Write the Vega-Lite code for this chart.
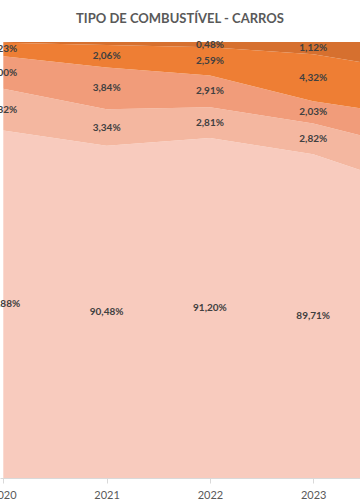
{
  "$schema": "https://vega.github.io/schema/vega-lite/v6.json",
  "autosize": {"type": "none"},
  "padding": {"top": 42, "left": 0, "right": 0, "bottom": 26},
  "width": 360,
  "height": 436,
  "background": "white",
  "title": {"text": "TIPO DE COMBUSTÍVEL - CARROS", "font": "Lato", "fontSize": 13, "fontWeight": "bold", "color": "#595959", "anchor": "middle", "frame": "group", "offset": 11},
  "config": {"view": {"stroke": null}},
  "data": {"values": [
    {"ano": 2020, "tipo": "Flex", "ord": 1, "pct": 91.88, "rotulo": "91,88%"},
    {"ano": 2020, "tipo": "Gasolina", "ord": 2, "pct": 3.82, "rotulo": "3,82%"},
    {"ano": 2020, "tipo": "Diesel", "ord": 3, "pct": 3.00, "rotulo": "3,00%"},
    {"ano": 2020, "tipo": "Híbrido", "ord": 4, "pct": 1.23, "rotulo": "1,23%"},
    {"ano": 2020, "tipo": "Elétrico", "ord": 5, "pct": 0.07, "rotulo": ""},
    {"ano": 2021, "tipo": "Flex", "ord": 1, "pct": 90.48, "rotulo": "90,48%"},
    {"ano": 2021, "tipo": "Gasolina", "ord": 2, "pct": 3.34, "rotulo": "3,34%"},
    {"ano": 2021, "tipo": "Diesel", "ord": 3, "pct": 3.84, "rotulo": "3,84%"},
    {"ano": 2021, "tipo": "Híbrido", "ord": 4, "pct": 2.06, "rotulo": "2,06%"},
    {"ano": 2021, "tipo": "Elétrico", "ord": 5, "pct": 0.28, "rotulo": ""},
    {"ano": 2022, "tipo": "Flex", "ord": 1, "pct": 91.20, "rotulo": "91,20%"},
    {"ano": 2022, "tipo": "Gasolina", "ord": 2, "pct": 2.81, "rotulo": "2,81%"},
    {"ano": 2022, "tipo": "Diesel", "ord": 3, "pct": 2.91, "rotulo": "2,91%"},
    {"ano": 2022, "tipo": "Híbrido", "ord": 4, "pct": 2.59, "rotulo": "2,59%"},
    {"ano": 2022, "tipo": "Elétrico", "ord": 5, "pct": 0.48, "rotulo": "0,48%"},
    {"ano": 2023, "tipo": "Flex", "ord": 1, "pct": 89.71, "rotulo": "89,71%"},
    {"ano": 2023, "tipo": "Gasolina", "ord": 2, "pct": 2.82, "rotulo": "2,82%"},
    {"ano": 2023, "tipo": "Diesel", "ord": 3, "pct": 2.03, "rotulo": "2,03%"},
    {"ano": 2023, "tipo": "Híbrido", "ord": 4, "pct": 4.32, "rotulo": "4,32%"},
    {"ano": 2023, "tipo": "Elétrico", "ord": 5, "pct": 1.12, "rotulo": "1,12%"},
    {"ano": 2024, "tipo": "Flex", "ord": 1, "pct": 86.50, "rotulo": "86,50%"},
    {"ano": 2024, "tipo": "Gasolina", "ord": 2, "pct": 3.65, "rotulo": "3,65%"},
    {"ano": 2024, "tipo": "Diesel", "ord": 3, "pct": 3.02, "rotulo": "3,02%"},
    {"ano": 2024, "tipo": "Híbrido", "ord": 4, "pct": 4.12, "rotulo": "4,12%"},
    {"ano": 2024, "tipo": "Elétrico", "ord": 5, "pct": 2.71, "rotulo": "2,71%"}
  ]},
  "layer": [
    {
      "mark": {"type": "area", "clip": true},
      "encoding": {
        "x": {"field": "ano", "type": "quantitative",
          "scale": {"domain": [2019.968, 2023.453], "nice": false, "zero": false},
          "axis": {"values": [2020, 2021, 2022, 2023], "format": "d", "labelFont": "Lato", "labelFontSize": 11, "labelColor": "#595959", "labelFlush": false, "labelOverlap": false, "labelPadding": 6, "tickSize": 5, "tickColor": "#d9d9d9", "domainColor": "#d9d9d9", "grid": false, "title": null}},
        "y": {"field": "pct", "type": "quantitative", "stack": "zero",
          "scale": {"domain": [60, 100], "nice": false, "zero": false}, "axis": null},
        "color": {"field": "tipo", "type": "nominal",
          "scale": {"domain": ["Flex", "Gasolina", "Diesel", "Híbrido", "Elétrico"], "range": ["#F8CBBE", "#F4B7A0", "#F19C7A", "#EE7E34", "#D6702F"]},
          "legend": null},
        "order": {"field": "ord", "type": "quantitative"}
      }
    },
    {
      "transform": [
        {"stack": "pct", "groupby": ["ano"], "sort": [{"field": "ord", "order": "ascending"}], "as": ["v0", "v1"]},
        {"calculate": "(max(datum.v0, 60) + datum.v1) / 2", "as": "meio"}
      ],
      "mark": {"type": "text", "font": "Lato", "fontSize": 10, "fontWeight": "bold", "color": "#404040", "baseline": "middle"},
      "encoding": {
        "x": {"field": "ano", "type": "quantitative"},
        "y": {"field": "meio", "type": "quantitative"},
        "text": {"field": "rotulo"}
      }
    }
  ]
}
